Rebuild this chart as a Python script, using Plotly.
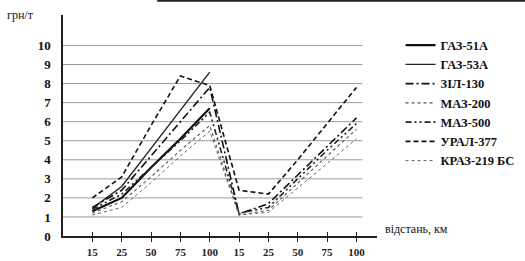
import plotly.graph_objects as go

# categories (distance, km) – two groups of the same distances
x_labels = ["15", "25", "50", "75", "100", "15", "25", "50", "75", "100"]
x_pos = list(range(len(x_labels)))

series_names = ["ГАЗ-51А", "ГАЗ-53А", "ЗІЛ-130", "МАЗ-200", "МАЗ-500", "УРАЛ-377", "КРАЗ-219 БС"]

gaz51 = [1.3, 2.0, 3.6, 5.1, 6.7, None, None, None, None, None]
gaz53 = [1.45, 2.6, 4.6, 6.6, 8.6, None, None, None, None, None]
zil130 = [1.5, 2.4, 4.2, 6.0, 7.8, 1.15, 1.7, 3.2, 4.7, 6.2]
maz200 = [1.2, 1.8, 3.1, 4.5, 5.8, 1.1, 1.35, 2.8, 4.2, 5.6]
maz500 = [1.4, 2.2, 3.6, 5.0, 6.5, 1.2, 1.5, 3.0, 4.5, 5.9]
ural377 = [2.0, 3.1, 5.8, 8.4, 7.9, 2.4, 2.2, 4.0, 5.9, 7.8]
kraz219 = [1.1, 1.5, 2.8, 4.2, 5.5, 1.1, 1.25, 2.5, 3.8, 5.1]

y_ticks = [0, 1, 2, 3, 4, 5, 6, 7, 8, 9, 10]

data = [gaz51, gaz53, zil130, maz200, maz500, ural377, kraz219]
styles = [
    dict(color="#111111", width=2.2, dash="solid"),
    dict(color="#222222", width=1.4, dash="solid"),
    dict(color="#111111", width=1.6, dash="8px,3px,2px,3px"),
    dict(color="#555555", width=1.1, dash="dot"),
    dict(color="#222222", width=1.6, dash="6px,3px,2px,3px,2px,3px"),
    dict(color="#111111", width=1.6, dash="5px,3px"),
    dict(color="#666666", width=1.0, dash="dot"),
]

fig = go.Figure()
for name, ys, st in zip(series_names, data, styles):
    fig.add_trace(go.Scatter(x=x_pos, y=ys, mode="lines", name=name, line=st,
                             connectgaps=False))

# horizontal grid lines (shorter than the x-axis line)
for v in y_ticks[1:]:
    fig.add_shape(type="line", xref="x", yref="y", x0=-1, x1=9.2, y0=v, y1=v,
                  line=dict(color="#9a9a9a", width=1), layer="below")

# scan border at top
fig.add_shape(type="line", xref="paper", yref="paper", x0=0.3, x1=1.5, y0=1.065, y1=1.065,
              line=dict(color="#222222", width=2))

serif = "Liberation Serif"
fig.update_layout(
    width=525, height=261,
    margin=dict(l=63, r=148, t=15, b=25, autoexpand=False),
    paper_bgcolor="white", plot_bgcolor="white",
    font=dict(family=serif, color="#111111"),
    showlegend=True,
    legend=dict(x=1.075, y=0.93, xanchor="left", yanchor="top",
                font=dict(family=serif, size=12.5, color="#111111", weight="bold"),
                bgcolor="rgba(0,0,0,0)", tracegroupgap=0, itemwidth=30),
    xaxis=dict(range=[-1, 9.7], tickmode="array", tickvals=x_pos, ticktext=x_labels,
               showgrid=False, zeroline=False, showline=True, linecolor="#222222",
               linewidth=1.5, ticks="outside", ticklen=4, tickwidth=1, tickcolor="#222222",
               ticklabelstandoff=1, automargin=False,
               tickfont=dict(family=serif, size=11, color="#222222", weight="bold")),
    xaxis2=dict(range=[-1, 9.7], overlaying="x", tickmode="array", tickvals=x_pos,
                showticklabels=False, showgrid=False, zeroline=False, showline=False,
                ticks="inside", ticklen=4, tickwidth=1, tickcolor="#222222"),
    yaxis=dict(range=[0, 11.6], tickmode="array", tickvals=y_ticks,
               ticktext=[str(v) for v in y_ticks], showgrid=False, zeroline=False,
               showline=True, linecolor="#222222", linewidth=1.5, ticks="",
               ticklabelstandoff=8, automargin=False,
               tickfont=dict(family=serif, size=13, color="#111111", weight="bold")),
    annotations=[
        dict(text="грн/т", xref="paper", yref="paper", x=-0.135, y=1.0, xanchor="center",
             yanchor="middle", showarrow=False,
             font=dict(family=serif, size=12, color="#111111")),
        dict(text="відстань, км", xref="paper", yref="paper", x=1.02, y=0.03,
             xanchor="left", yanchor="middle", showarrow=False,
             font=dict(family=serif, size=12, color="#111111")),
    ],
)
# dummy trace to activate xaxis2 for crossing ticks
fig.add_trace(go.Scatter(x=[None], y=[None], xaxis="x2", showlegend=False, hoverinfo="skip"))

fig.write_html("out.html")
